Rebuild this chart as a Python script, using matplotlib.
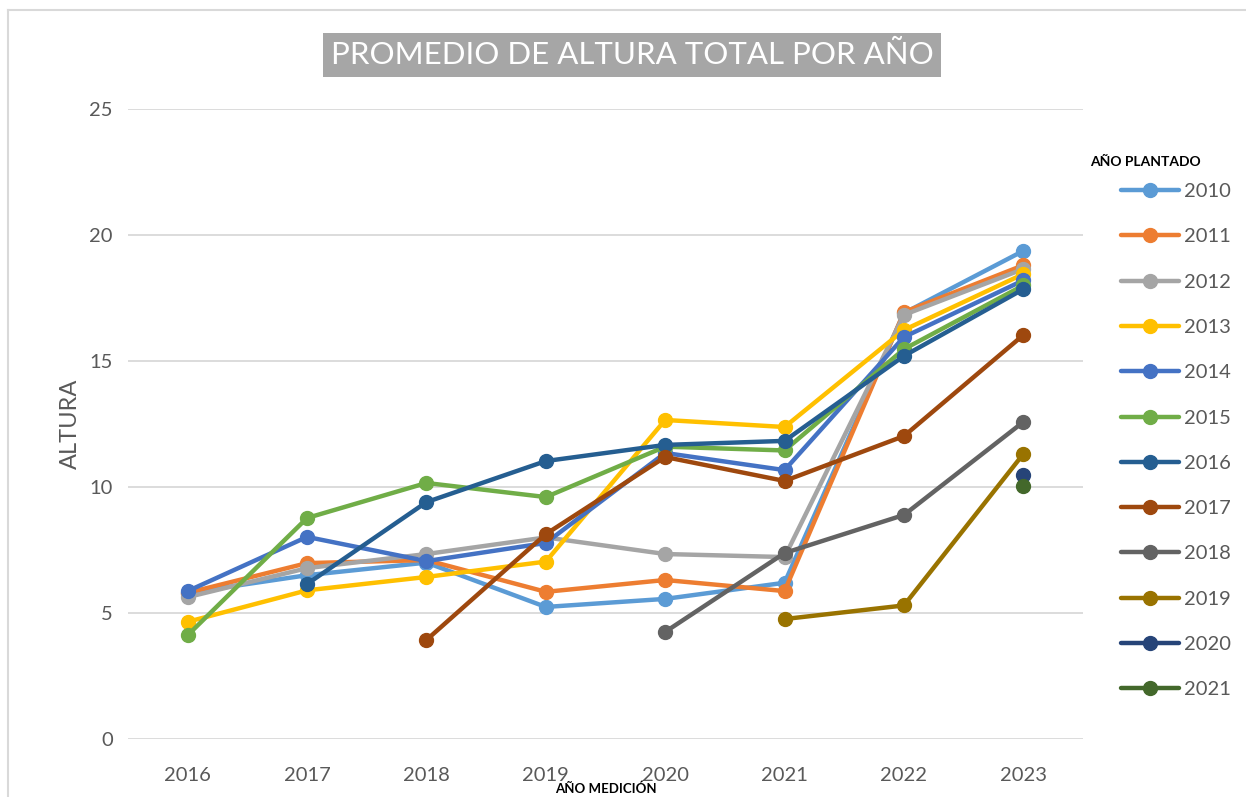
import numpy as np
import matplotlib
matplotlib.use("Agg")
import matplotlib.pyplot as plt
from matplotlib.lines import Line2D

plt.rcParams['font.family'] = ['Lato', 'DejaVu Sans']

nan = np.nan
years_measured = ['2016', '2017', '2018', '2019', '2020', '2021', '2022', '2023']
series_names = ['2010', '2011', '2012', '2013', '2014', '2015',
                '2016', '2017', '2018', '2019', '2020', '2021']

s2010 = [5.8, 6.5, 7.0, 5.24, 5.56, 6.2, 16.9, 19.37]
s2011 = [5.8, 6.98, 7.1, 5.84, 6.31, 5.87, 16.94, 18.8]
s2012 = [5.63, 6.78, 7.34, 8.0, 7.34, 7.22, 16.83, 18.65]
s2013 = [4.65, 5.9, 6.43, 7.04, 12.66, 12.38, 16.23, 18.45]
s2014 = [5.87, 8.02, 7.06, 7.78, 11.35, 10.67, 15.95, 18.2]
s2015 = [4.12, 8.77, 10.16, 9.6, 11.6, 11.45, 15.47, 18.0]
s2016 = [nan, 6.15, 9.4, 11.03, 11.67, 11.83, 15.2, 17.85]
s2017 = [nan, nan, 3.93, 8.13, 11.19, 10.24, 12.02, 16.03]
s2018 = [nan, nan, nan, nan, 4.25, 7.38, 8.89, 12.58]
s2019 = [nan, nan, nan, nan, nan, 4.76, 5.3, 11.31]
s2020 = [nan, nan, nan, nan, nan, nan, nan, 10.48]
s2021 = [nan, nan, nan, nan, nan, nan, nan, 10.05]

series = [s2010, s2011, s2012, s2013, s2014, s2015,
          s2016, s2017, s2018, s2019, s2020, s2021]
colors = ['#5B9BD5', '#ED7D31', '#A5A5A5', '#FFC000', '#4472C4', '#70AD47',
          '#255E91', '#9E480E', '#636363', '#997300', '#264478', '#43682B']

W, H = 1246, 797
fig = plt.figure(figsize=(W / 100, H / 100), dpi=100)
fig.patch.set_facecolor('white')

# chart border (left and top visible)
fig.add_artist(Line2D([8 / W, 8 / W], [0, 1 - 10 / H], color='#D9D9D9', lw=1.5))
fig.add_artist(Line2D([8 / W, 1], [1 - 10 / H, 1 - 10 / H], color='#D9D9D9', lw=1.5))

ax = fig.add_axes([128 / W, 58 / H, (1083 - 128) / W, 630 / H])
x = np.arange(len(years_measured))
handles = []
for name, vals, c in zip(series_names, series, colors):
    ln, = ax.plot(x, vals, color=c, lw=3.2, marker='o', markersize=10,
                  solid_capstyle='round', label=name, zorder=3)
    handles.append(ln)

ax.set_xlim(-0.5, len(years_measured) - 0.5)
ax.set_ylim(0, 25)
ax.set_yticks([0, 5, 10, 15, 20, 25])
ax.set_xticks(x)
ax.set_xticklabels(years_measured)
ax.grid(axis='y', color='#D9D9D9', lw=1.3, zorder=0)
for sp in ax.spines.values():
    sp.set_visible(False)
ax.tick_params(axis='both', length=0, labelsize=14.5, colors='#595959')
ax.tick_params(axis='y', pad=11)
ax.tick_params(axis='x', pad=20)
ax.set_ylabel('ALTURA', fontsize=17, color='#595959', labelpad=6)
ax.set_xlabel('AÑO MEDICIÓN', fontsize=9.5, fontweight='bold', color='#000000', labelpad=-1)

fig.text(632 / W, 1 - 55 / H, 'PROMEDIO DE ALTURA TOTAL POR AÑO', ha='center', va='center',
         fontsize=22.5, color='white',
         bbox=dict(boxstyle='square,pad=0.25', facecolor='#A6A6A6', edgecolor='none'))

fig.text(1090 / W, 1 - 162 / H, 'AÑO PLANTADO', ha='left', va='center',
         fontsize=10, fontweight='bold', color='#000000')

leg = fig.legend(handles=handles, loc='upper left', bbox_to_anchor=(1121 / W, 1 - 183 / H),
                 frameon=False, fontsize=14.5, labelcolor='#595959',
                 handlelength=2.9, handletextpad=0.25, labelspacing=1.4,
                 borderaxespad=0, borderpad=0)

fig.savefig('out.png', dpi=100)
